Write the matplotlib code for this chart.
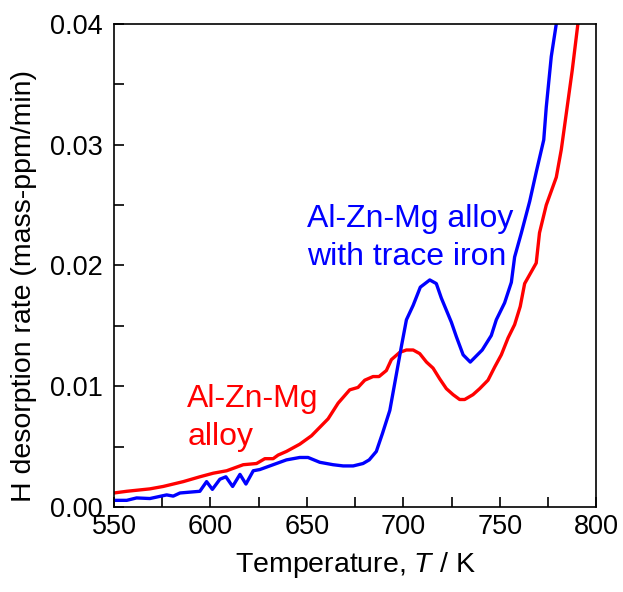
import numpy as np
import matplotlib
matplotlib.use("Agg")
import matplotlib.pyplot as plt
from matplotlib.ticker import MultipleLocator

plt.rcParams['font.family'] = ['Liberation Sans', 'DejaVu Sans']
plt.rcParams['mathtext.fontset'] = 'custom'
plt.rcParams['mathtext.it'] = 'Liberation Sans:italic'
plt.rcParams['mathtext.rm'] = 'Liberation Sans'

# Al-Zn-Mg alloy with trace iron (blue)
temp_fe = [550, 556.6, 561.7, 568.6, 577.3, 580.7, 584.2, 594.5, 598, 601, 604.9, 608,
           611.5, 615.3, 618.4, 622.2, 625.6, 632.5, 639.4, 646.3, 650.6, 656.7, 663.6,
           668.8, 674, 679.1, 682.3, 686, 689.2, 693, 696.4, 699, 701.6, 705.1, 708.8,
           713.7, 717.1, 719.7, 724.9, 727.5, 731, 734.7, 740.9, 745.6, 748.2, 752.5,
           756, 757.7, 761.2, 765.5, 769, 772.8, 774.1, 776.7, 779.3, 780.5]
rate_fe = [0.00055, 0.00055, 0.00075, 0.0007, 0.001, 0.0009, 0.00116, 0.0013, 0.0021,
           0.00146, 0.0023, 0.0025, 0.0017, 0.0027, 0.0019, 0.003, 0.0031, 0.0035,
           0.0039, 0.0041, 0.0041, 0.0037, 0.0035, 0.0034, 0.0034, 0.0036, 0.0039,
           0.0046, 0.0061, 0.008, 0.011, 0.0133, 0.0155, 0.0167, 0.0182, 0.0188,
           0.0185, 0.0173, 0.0153, 0.0141, 0.0126, 0.012, 0.013, 0.0142, 0.0155,
           0.0169, 0.0186, 0.0207, 0.0227, 0.0253, 0.0278, 0.0304, 0.0331, 0.0373,
           0.0400, 0.0425]

# Al-Zn-Mg alloy (red)
temp_base = [550, 556.6, 568.6, 575.5, 585.9, 594.5, 601.5, 608.4, 617, 623.9, 628.2,
             632.5, 635.1, 639.4, 646.3, 652.4, 656.7, 661, 666.2, 672.2, 676.5, 680,
             684.3, 687.4, 691.2, 693.8, 698.1, 701.6, 705.1, 708.5, 712, 715.4, 718.9,
             722.3, 725.8, 729.2, 731.8, 736.1, 739.6, 743.9, 747.4, 750.8, 754.3,
             757.7, 760.6, 762.9, 768.9, 770.6, 774.1, 779.3, 781.9, 784.5, 787.6,
             790.5, 791.5]
rate_base = [0.00116, 0.0013, 0.0015, 0.0017, 0.0021, 0.0025, 0.0028, 0.003, 0.0035,
             0.0036, 0.004, 0.004, 0.0043, 0.0046, 0.0052, 0.0059, 0.0066, 0.0073,
             0.0086, 0.0097, 0.0099, 0.0105, 0.0108, 0.0108, 0.0113, 0.0122, 0.0128,
             0.013, 0.013, 0.0127, 0.012, 0.0115, 0.0106, 0.0098, 0.0093, 0.0089,
             0.0089, 0.0093, 0.0098, 0.0105, 0.0116, 0.0126, 0.014, 0.0151, 0.0166,
             0.0185, 0.0202, 0.0227, 0.025, 0.0273, 0.0296, 0.0326, 0.0362, 0.0400,
             0.0415]

fig = plt.figure(figsize=(6.23, 5.92), dpi=100)
ax = fig.add_axes([0.183, 0.1436, 0.774, 0.816])

ax.plot(temp_base, rate_base, color='#ff0000', lw=2.4)
ax.plot(temp_fe, rate_fe, color='#0000ff', lw=2.4)

ax.set_xlim(550, 800)
ax.set_ylim(0, 0.04)
ax.xaxis.set_major_locator(MultipleLocator(50))
ax.xaxis.set_minor_locator(MultipleLocator(25))
ax.yaxis.set_major_locator(MultipleLocator(0.01))
ax.yaxis.set_minor_locator(MultipleLocator(0.005))
ax.yaxis.set_major_formatter(plt.FuncFormatter(lambda v, p: f"{v:.2f}"))

ax.tick_params(which='both', direction='in', length=7, width=1.2,
               top=False, right=False, labelsize=19.5)
ax.tick_params(axis='x', pad=5)
ax.tick_params(axis='y', pad=8)
for s in ax.spines.values():
    s.set_linewidth(1.2)

ax.set_xlabel('Temperature, $\\mathit{T}$ / K', fontsize=20.5, labelpad=7)
ax.set_ylabel('H desorption rate (mass-ppm/min)', fontsize=20.5)
ax.yaxis.set_label_coords(-0.16, 0.457)

ax.text(650.1, 0.0232, 'Al-Zn-Mg alloy', color='#0000ff', fontsize=23, va='baseline')
ax.text(650.1, 0.0200, 'with trace iron', color='#0000ff', fontsize=23, va='baseline')
ax.text(588.0, 0.00828, 'Al-Zn-Mg', color='#ff0000', fontsize=23, va='baseline')
ax.text(588.0, 0.00513, 'alloy', color='#ff0000', fontsize=23, va='baseline')

fig.savefig('out.png', dpi=100)
